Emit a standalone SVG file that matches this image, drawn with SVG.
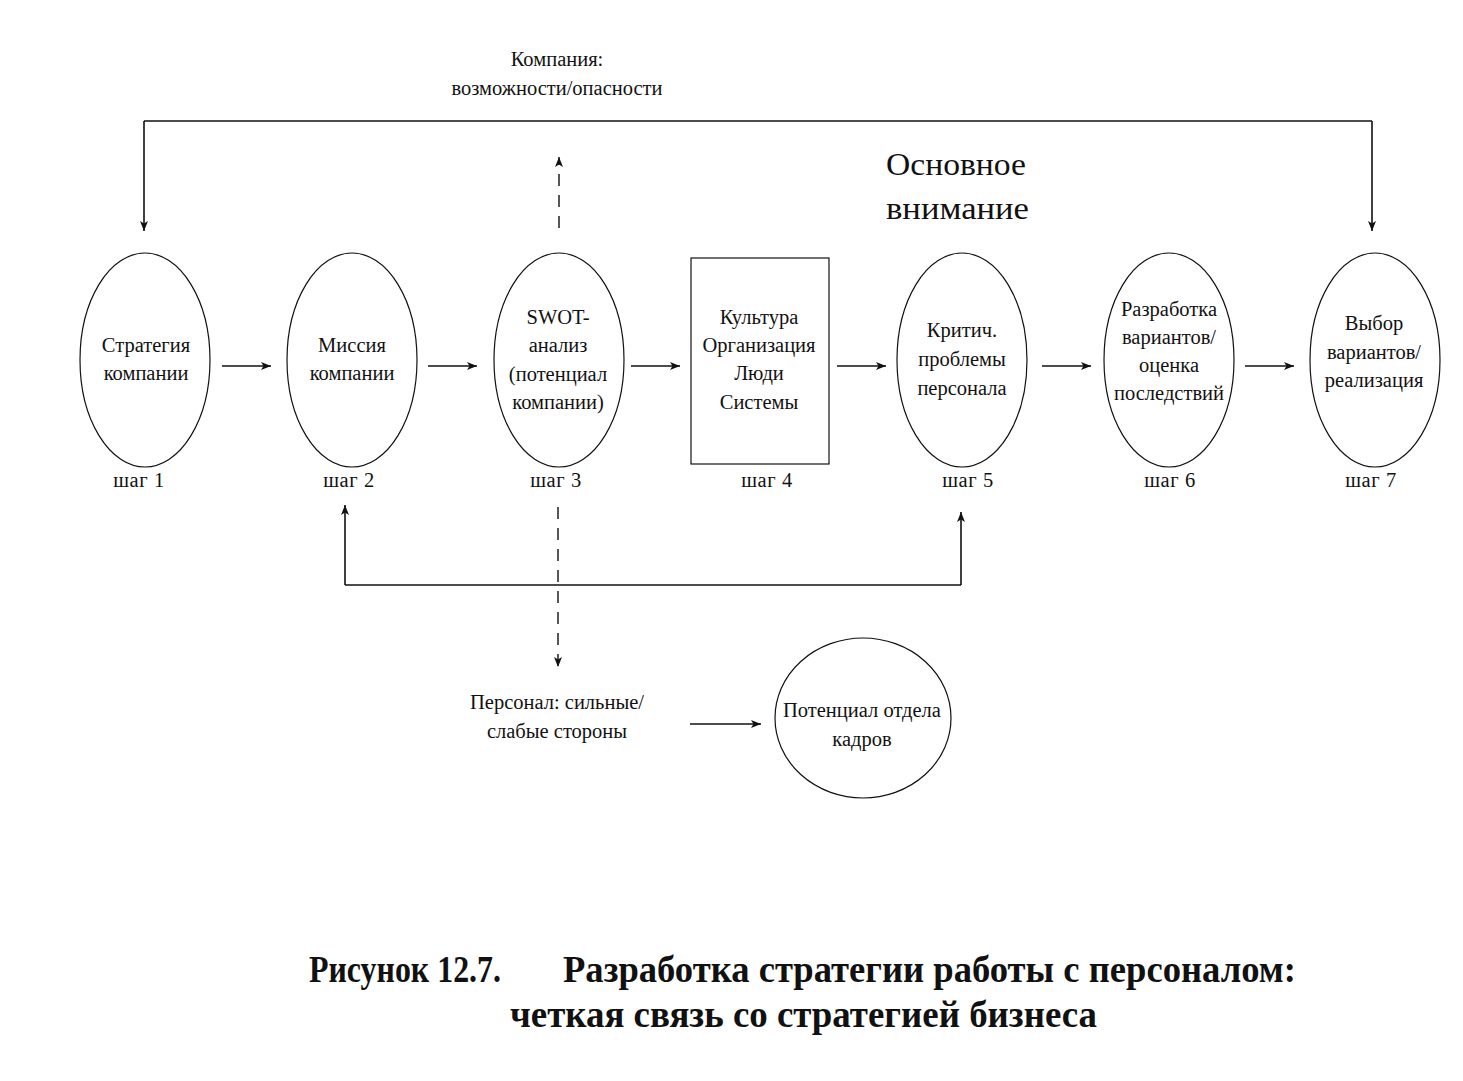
<svg xmlns="http://www.w3.org/2000/svg" width="1463" height="1081" viewBox="0 0 1463 1081">
<defs>
<marker id="ah" viewBox="0 0 10 8" refX="10" refY="4" markerWidth="10" markerHeight="8" markerUnits="userSpaceOnUse" orient="auto">
<path d="M0,0 L10,4 L0,8 L2.5,4 Z" fill="#111"/>
</marker>
</defs>
<style>
text{font-family:"Liberation Serif","DejaVu Serif",serif;fill:#111;}
.t{font-size:20.5px;text-anchor:middle;}
.s{font-size:20.5px;text-anchor:middle;letter-spacing:0.6px;}
.big{font-size:32px;}
.cap{font-size:37px;font-weight:bold;}
.n{fill:#fff;stroke:#111;stroke-width:1.2;}
.c{fill:none;stroke:#111;stroke-width:1.6;}
.d{fill:none;stroke:#111;stroke-width:1.4;stroke-dasharray:12,9;}
</style>
<rect width="1463" height="1081" fill="#fff"/>

<g id="connectors">
<path class="c" d="M144,121 H1372" />
<path class="c" d="M144,121 V231" marker-end="url(#ah)"/>
<path class="c" d="M1372,121 V231" marker-end="url(#ah)"/>
<path class="c" d="M222,366 H271" marker-end="url(#ah)"/>
<path class="c" d="M428,366 H477" marker-end="url(#ah)"/>
<path class="c" d="M631,366 H680" marker-end="url(#ah)"/>
<path class="c" d="M837,366 H886" marker-end="url(#ah)"/>
<path class="c" d="M1042,366 H1091" marker-end="url(#ah)"/>
<path class="c" d="M1245,366 H1294" marker-end="url(#ah)"/>
<path class="d" d="M559,228 V157" marker-end="url(#ah)"/>
<path class="d" d="M558,507 V667" marker-end="url(#ah)"/>
<path class="c" d="M345,585 H961" />
<path class="c" d="M345,585 V505" marker-end="url(#ah)"/>
<path class="c" d="M961,585 V512" marker-end="url(#ah)"/>
<path class="c" d="M690,724 H761" marker-end="url(#ah)"/>
</g>

<g id="label-company">
<text class="t" x="557" y="66">Компания:</text>
<text class="t" x="557" y="95">возможности/опасности</text>
</g>

<g id="label-focus">
<text class="big" x="886" y="175" textLength="140" lengthAdjust="spacingAndGlyphs">Основное</text>
<text class="big" x="886" y="219" textLength="143" lengthAdjust="spacingAndGlyphs">внимание</text>
</g>

<g id="step1">
<ellipse class="n" cx="145" cy="360" rx="65" ry="107"/>
<text class="t" x="146" y="352">Стратегия</text>
<text class="t" x="146" y="380">компании</text>
<text class="s" x="139" y="487">шаг 1</text>
</g>

<g id="step2">
<ellipse class="n" cx="352" cy="360" rx="65" ry="107"/>
<text class="t" x="352" y="352">Миссия</text>
<text class="t" x="352" y="380">компании</text>
<text class="s" x="349" y="487">шаг 2</text>
</g>

<g id="step3">
<ellipse class="n" cx="559" cy="360" rx="65" ry="107"/>
<text class="t" x="558" y="324">SWOT-</text>
<text class="t" x="558" y="352">анализ</text>
<text class="t" x="558" y="381">(потенциал</text>
<text class="t" x="558" y="409">компании)</text>
<text class="s" x="556" y="487">шаг 3</text>
</g>

<g id="step4">
<rect class="n" x="691" y="258" width="138" height="206"/>
<text class="t" x="759" y="324">Культура</text>
<text class="t" x="759" y="352">Организация</text>
<text class="t" x="759" y="380">Люди</text>
<text class="t" x="759" y="409">Системы</text>
<text class="s" x="767" y="487">шаг 4</text>
</g>

<g id="step5">
<ellipse class="n" cx="962" cy="360" rx="65" ry="107"/>
<text class="t" x="962" y="337">Критич.</text>
<text class="t" x="962" y="366">проблемы</text>
<text class="t" x="962" y="395">персонала</text>
<text class="s" x="968" y="487">шаг 5</text>
</g>

<g id="step6">
<ellipse class="n" cx="1169" cy="360" rx="65" ry="107"/>
<text class="t" x="1169" y="316">Разработка</text>
<text class="t" x="1169" y="344">вариантов/</text>
<text class="t" x="1169" y="372">оценка</text>
<text class="t" x="1169" y="400">последствий</text>
<text class="s" x="1170" y="487">шаг 6</text>
</g>

<g id="step7">
<ellipse class="n" cx="1375" cy="360" rx="65" ry="107"/>
<text class="t" x="1374" y="330">Выбор</text>
<text class="t" x="1374" y="359">вариантов/</text>
<text class="t" x="1374" y="387">реализация</text>
<text class="s" x="1371" y="487">шаг 7</text>
</g>

<g id="label-personnel">
<text class="t" x="557" y="709">Персонал: сильные/</text>
<text class="t" x="557" y="738">слабые стороны</text>
</g>

<g id="hr-potential">
<ellipse class="n" cx="863" cy="718" rx="88" ry="80"/>
<text class="t" x="862" y="717">Потенциал отдела</text>
<text class="t" x="862" y="746">кадров</text>
</g>

<g id="caption">
<text class="cap" x="309" y="982" textLength="192" lengthAdjust="spacingAndGlyphs">Рисунок 12.7.</text>
<text class="cap" x="563" y="982" textLength="733" lengthAdjust="spacingAndGlyphs">Разработка стратегии работы с персоналом:</text>
<text class="cap" x="510" y="1027" textLength="587" lengthAdjust="spacingAndGlyphs">четкая связь со стратегией бизнеса</text>
</g>
</svg>
